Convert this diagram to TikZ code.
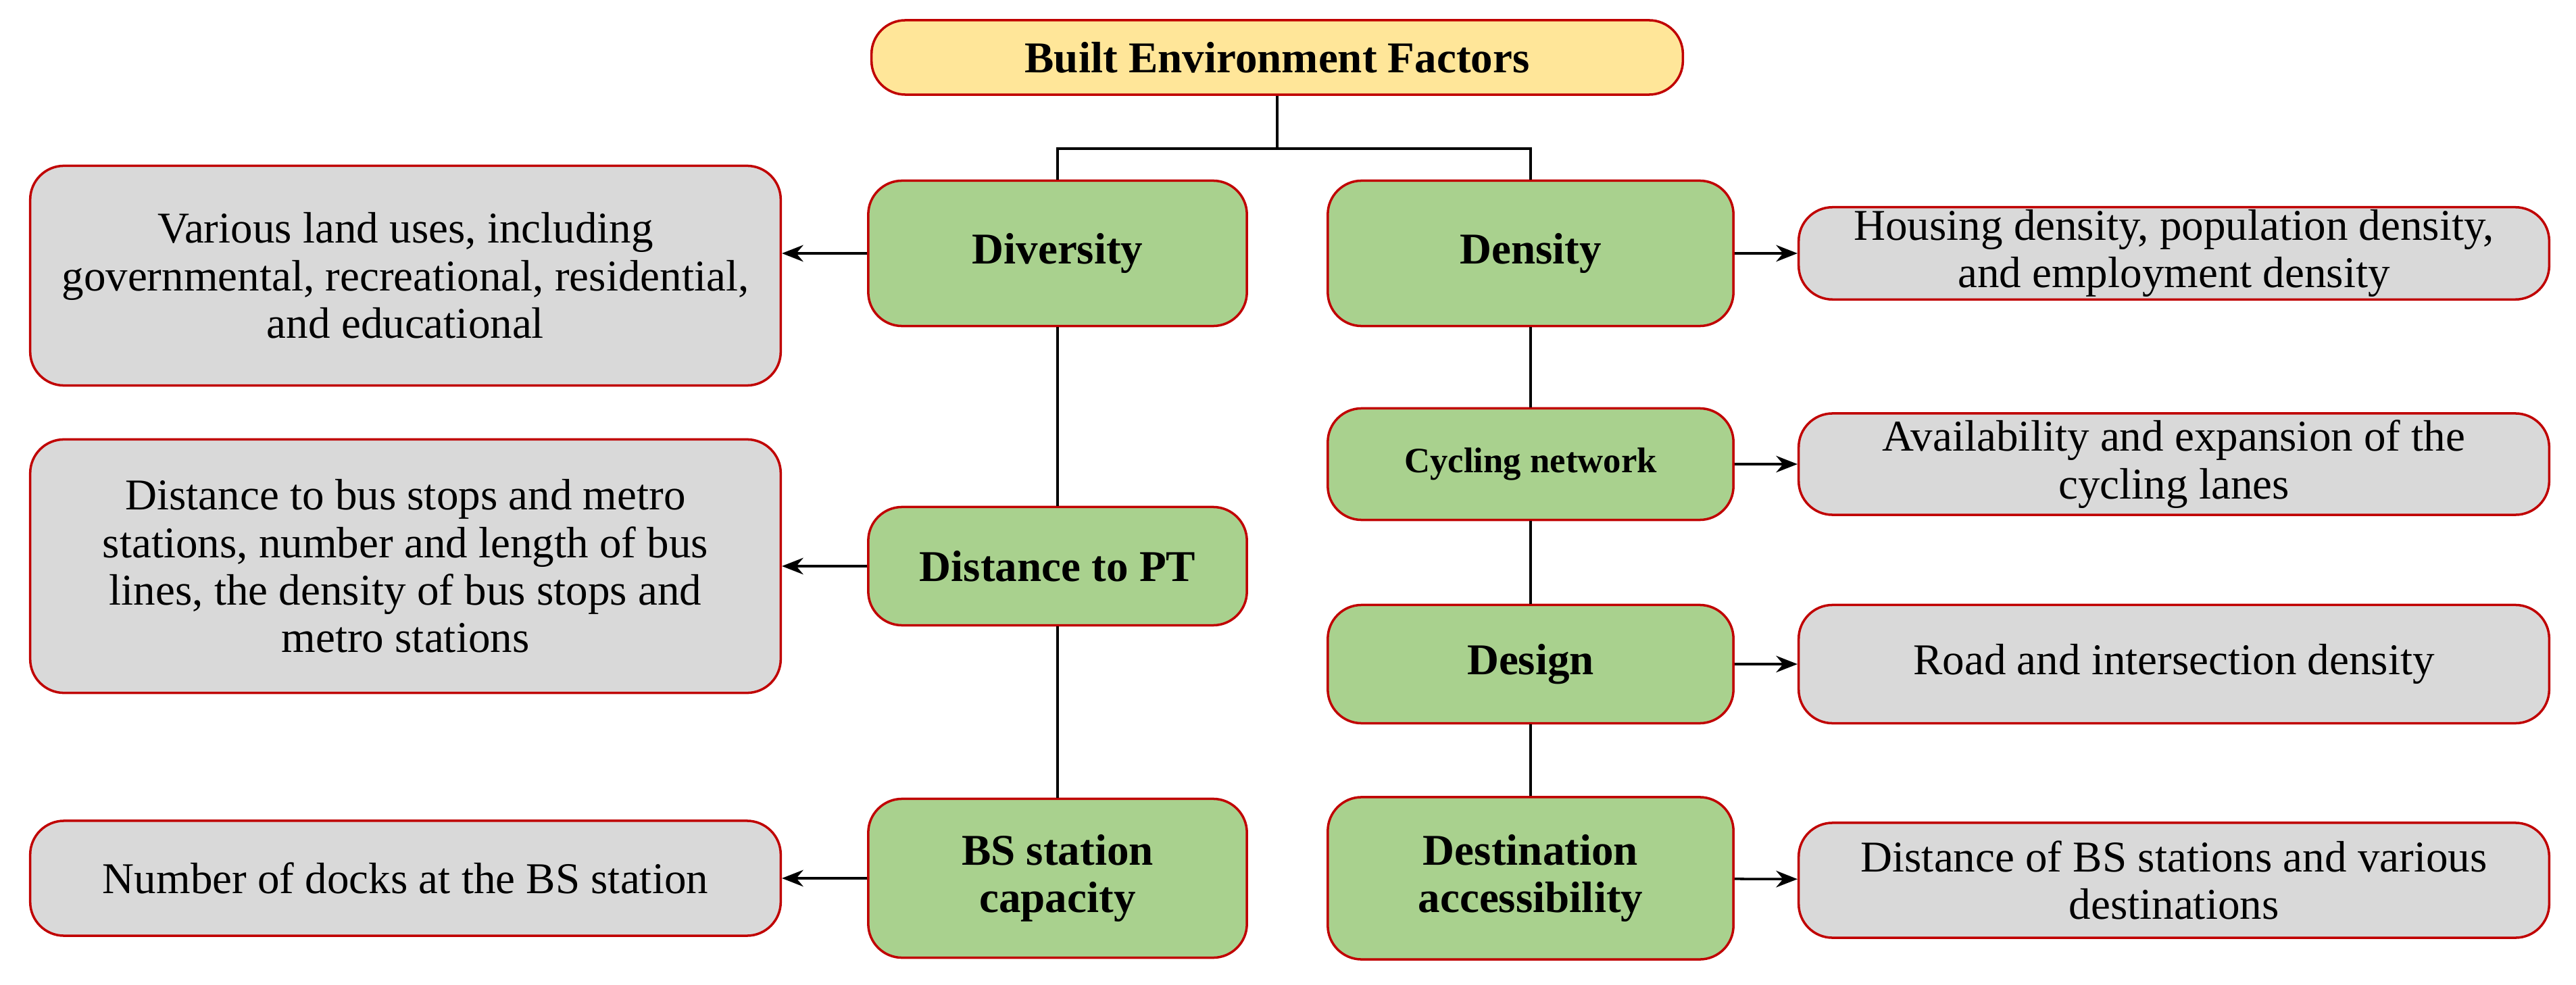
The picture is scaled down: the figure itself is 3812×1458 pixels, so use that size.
\documentclass[tikz,border=0pt]{standalone}
\usepackage{fontspec}
\setmainfont{Liberation Serif}
\usetikzlibrary{arrows.meta}
\definecolor{bord}{HTML}{C00000}
\definecolor{grn}{HTML}{A9D18E}
\definecolor{gry}{HTML}{D9D9D9}
\definecolor{ylw}{HTML}{FFE699}
\begin{document}
\begin{tikzpicture}[x=0.01cm,y=-0.01cm,
  base/.style={draw=bord,line width=1pt,rounded corners=0.5cm,align=center,inner sep=1pt,font=\fontsize{18.5}{20}\selectfont},
  top/.style={base,fill=ylw,minimum width=12cm,minimum height=1.1cm,font=\fontsize{18.5}{20}\selectfont\bfseries},
  fac/.style={base,fill=grn,minimum width=5.6cm,font=\fontsize{18.5}{20}\selectfont\bfseries},
  desc/.style={base,fill=gry,minimum width=11.1cm},
  arr/.style={-{Stealth[length=9pt,width=7pt]},line width=1pt},
  ln/.style={line width=1pt}]
\useasboundingbox (0,0) rectangle (3812,1458);
\node[top] (t) at (1890,85) {Built Environment Factors};
\node[fac,minimum height=2.15cm] (div) at (1565,375) {Diversity};
\node[fac,minimum height=2.15cm,minimum width=6cm] (den) at (2265,375) {Density};
\node[fac,minimum height=1.75cm] (pt) at (1565,838) {Distance to PT};
\node[fac,minimum height=2.35cm] (bs) at (1565,1300) {BS station\\capacity};
\node[fac,minimum height=1.65cm,minimum width=6cm,font=\fontsize{15}{17}\selectfont\bfseries] (cyc) at (2265,687) {Cycling network};
\node[fac,minimum height=1.75cm,minimum width=6cm] (des) at (2265,983) {Design};
\node[fac,minimum height=2.4cm,minimum width=6cm] (dst) at (2265,1300) {Destination\\accessibility};
\node[desc,minimum height=3.25cm] (d1) at (600,408) {Various land uses, including\\governmental, recreational, residential,\\and educational};
\node[desc,minimum height=3.75cm] (d2) at (600,838) {Distance to bus stops and metro\\stations, number and length of bus\\lines, the density of bus stops and\\metro stations};
\node[desc,minimum height=1.7cm] (d3) at (600,1300) {Number of docks at the BS station};
\node[desc,minimum height=1.1cm] (d4) at (3217,375) {Housing density, population density,\\and employment density};
\node[desc,minimum height=1.5cm] (d5) at (3217,687) {Availability and expansion of the\\cycling lanes};
\node[desc,minimum height=1.75cm] (d6) at (3217,983) {Road and intersection density};
\node[desc,minimum height=1.7cm] (d7) at (3217,1303) {Distance of BS stations and various\\destinations};
\coordinate (j) at (1890,220);
\draw[ln] (t.south) -- (j);
\draw[ln] (div.north) |- (j) -| (den.north);
\draw[ln] (div) -- (pt) (pt) -- (bs);
\draw[ln] (den) -- (cyc) (cyc) -- (des) (des) -- (dst);
\draw[arr] (div.west) -- (div.west -| d1.east);
\draw[arr] (pt) -- (d2);
\draw[arr] (bs) -- (d3);
\draw[arr] (den) -- (d4);
\draw[arr] (cyc) -- (d5);
\draw[arr] (des) -- (d6);
\draw[arr] (dst) -- (d7);
\end{tikzpicture}
\end{document}
